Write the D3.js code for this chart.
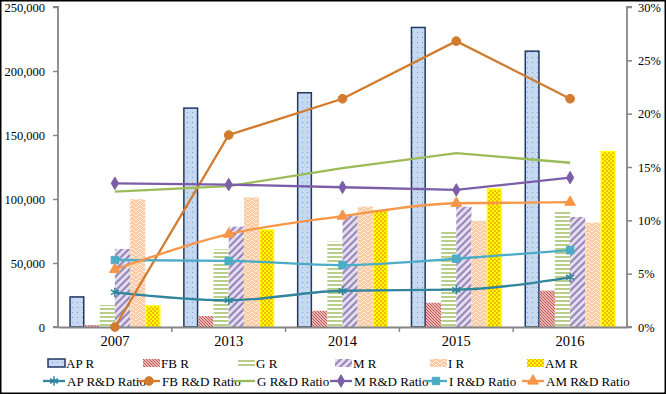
<!DOCTYPE html>
<html><head><meta charset="utf-8">
<script src="https://cdn.jsdelivr.net/npm/d3@7"></script>
<style>body{margin:0;background:#fff}svg{display:block}</style>
</head><body><svg id="c" width="666" height="394" font-family="Liberation Serif"></svg>
<script>
const categories = ["2007","2013","2014","2015","2016"];
const barSeries = ["AP R","FB R","G R","M R","I R","AM R"];
const apR = [23500,171000,183000,234000,215500];
const fbR = [1500,8600,12700,19000,28400];
const gR  = [17200,60700,66700,75800,90900];
const mR  = [61000,78400,87300,94000,86000];
const iR  = [99800,101300,94000,83000,81500];
const amR = [16400,75800,90900,107800,137000];
const lineSeries = ["AP R&D Ratio","FB R&D Ratio","G R&D Ratio","M R&D Ratio","I R&D Ratio","AM R&D Ratio"];
const apRatio = [0.0325,0.025,0.034,0.035,0.0466];
const fbRatio = [0.0,0.180,0.214,0.268,0.214];
const gRatio  = [0.127,0.132,0.149,0.163,0.154];
const mRatio  = [0.1347,0.1335,0.131,0.1285,0.140];
const iRatio  = [0.0628,0.062,0.058,0.064,0.072];
const amRatio = [0.054,0.087,0.104,0.116,0.117];
const leftTicks = [0,50000,100000,150000,200000,250000];
const rightTicks = [0,0.05,0.10,0.15,0.20,0.25,0.30];

const barData = [apR,fbR,gR,mR,iR,amR];
const lineData = [apRatio,fbRatio,gRatio,mRatio,iRatio,amRatio];

const FONT="Liberation Serif";
const svg = d3.select("#c");
const defs = svg.append("defs");
const L=58,R=627,T=7,B=327;

function pat(id,w,h,bg,draw){
  const p=defs.append("pattern").attr("id",id).attr("patternUnits","userSpaceOnUse").attr("width",w).attr("height",h);
  p.append("rect").attr("width",w).attr("height",h).attr("fill",bg);
  draw(p);
}
pat("pAP",5,5,"#C6D9F1",p=>p.append("rect").attr("x",2).attr("y",2).attr("width",1).attr("height",1).attr("fill","#7F9CC4"));
pat("pFB",3,3,"#F8DEDD",p=>{p.append("path").attr("d","M0,0L3,3M-1,2L1,4M2,-1L4,1").attr("stroke","#C0504D").attr("stroke-width",1.1);});
pat("pG",4,4,"#ffffff",p=>p.append("rect").attr("y",0).attr("width",4).attr("height",2).attr("fill","#B7CF8A"));
pat("pM",7,7,"#E4DFEE",p=>{p.append("path").attr("d","M0,7L7,0M-2,2L2,-2M5,9L9,5").attr("stroke","#9C88BF").attr("stroke-width",2.2);});
pat("pI",8,8,"#FBCBA5",p=>{p.append("path").attr("d","M0,4L4,0L8,4M0,8L4,4L8,8").attr("stroke","#FEF1E6").attr("stroke-width",1).attr("fill","none");});
pat("pAM",4,4,"#FFFF00",p=>{p.append("rect").attr("x",0).attr("y",0).attr("width",2).attr("height",2).attr("fill","#F5B800");p.append("rect").attr("x",2).attr("y",2).attr("width",2).attr("height",2).attr("fill","#F5B800");});
const fills=["url(#pAP)","url(#pFB)","url(#pG)","url(#pM)","url(#pI)","url(#pAM)"];
const strokes=["#1F3864","none","none","none","none","#FFFF00"];
const lineColors=["#31859C","#D27B2E","#9BBB59","#7B5EA7","#4BACC6","#F79646"];
const symbols=[d3.symbolAsterisk,d3.symbolCircle,null,d3.symbolDiamond,d3.symbolSquare,d3.symbolTriangle];
const symSize=[60,60,0,45,55,50];
const curves=[d3.curveMonotoneX,d3.curveLinear,d3.curveLinear,d3.curveLinear,d3.curveMonotoneX,d3.curveMonotoneX];

const x=d3.scaleBand().domain(categories).range([L,R]).padding(0);
const xi=d3.scaleBand().domain(barSeries).range([0,x.bandwidth()]).paddingInner(0).paddingOuter(0.745);
const y=d3.scaleLinear().domain([0,250000]).range([B,T]);
const y2=d3.scaleLinear().domain([0,0.30]).range([B,T]);

barSeries.forEach((s,si)=>{
  const inset = (si===0||si===5)?1:0;
  svg.append("g").selectAll("rect").data(barData[si]).join("rect")
    .attr("x",(d,i)=>x(categories[i])+xi(s)+inset*0.75)
    .attr("width",xi.bandwidth()-inset*1.5)
    .attr("y",d=>y(d)).attr("height",d=>B-y(d))
    .attr("fill",fills[si]).attr("stroke",strokes[si]).attr("stroke-width",1.5);
});

const axisCol="#868686";
const gl=svg.append("g").attr("transform",`translate(${L},0)`).call(d3.axisLeft(y).tickValues(leftTicks).tickFormat(d3.format(",")).tickSize(5).tickPadding(8));
const gr=svg.append("g").attr("transform",`translate(${R},0)`).call(d3.axisRight(y2).tickValues(rightTicks).tickFormat(d3.format(".0%")).tickSize(5).tickPadding(6));
const gb=svg.append("g").attr("transform",`translate(0,${B})`).call(d3.axisBottom(x).tickSize(0).tickPadding(9));
[gl,gr,gb].forEach(g=>{g.attr("font-family",FONT);g.selectAll("path,line").attr("stroke",axisCol).attr("stroke-width",1.5);g.select(".domain").attr("stroke-width",1.8);g.selectAll("text").attr("fill","#000").attr("font-size",12.5);});
gl.select(".domain").attr("d",`M-5,${T}H0V${B}H-5`);
gr.select(".domain").attr("d",`M5,${T}H0V${B}H5`);
gb.selectAll("text").attr("font-size",14.5);
svg.append("g").selectAll("line").data(categories.slice(1)).join("line")
  .attr("x1",d=>x(d)).attr("x2",d=>x(d)).attr("y1",B).attr("y2",B+5).attr("stroke",axisCol).attr("stroke-width",1.5);

lineSeries.forEach((s,si)=>{
  const pts=lineData[si].map((v,i)=>[x(categories[i])+x.bandwidth()/2,y2(v)]);
  svg.append("path").attr("d",d3.line().curve(curves[si])(pts)).attr("fill","none").attr("stroke",lineColors[si]).attr("stroke-width",2.3);
  if(symbols[si]){
    svg.append("g").selectAll("path").data(pts).join("path")
      .attr("transform",d=>`translate(${d[0]},${d[1]})`)
      .attr("d",d3.symbol(symbols[si],symSize[si]))
      .attr("fill",si===0?"none":lineColors[si]).attr("stroke",lineColors[si]).attr("stroke-width",si===0?1.5:1);
  }
});

const colX=[48,143,238,335,430,527];
const lg=svg.append("g").attr("font-family",FONT);
barSeries.forEach((s,si)=>{
  lg.append("rect").attr("x",colX[si]).attr("y",359).attr("width",17).attr("height",8)
    .attr("fill",fills[si]).attr("stroke",si===0?"#1F3864":"none").attr("stroke-width",1.5);
  lg.append("text").attr("x",colX[si]+18).attr("y",367.5).attr("font-size",13).text(s);
});
lineSeries.forEach((s,si)=>{
  const x0=colX[si]-5;
  lg.append("line").attr("x1",x0).attr("x2",x0+22).attr("y1",381).attr("y2",381).attr("stroke",lineColors[si]).attr("stroke-width",2.3);
  if(symbols[si]) lg.append("path").attr("transform",`translate(${x0+11},381)`).attr("d",d3.symbol(symbols[si],symSize[si]))
    .attr("fill",si===0?"none":lineColors[si]).attr("stroke",lineColors[si]).attr("stroke-width",si===0?1.5:1);
  lg.append("text").attr("x",x0+24).attr("y",386).attr("font-size",13).text(s);
});

svg.append("rect").attr("x",0.75).attr("y",0.75).attr("width",664.5).attr("height",392.5).attr("fill","none").attr("stroke","#000").attr("stroke-width",1.5);
</script></body></html>
